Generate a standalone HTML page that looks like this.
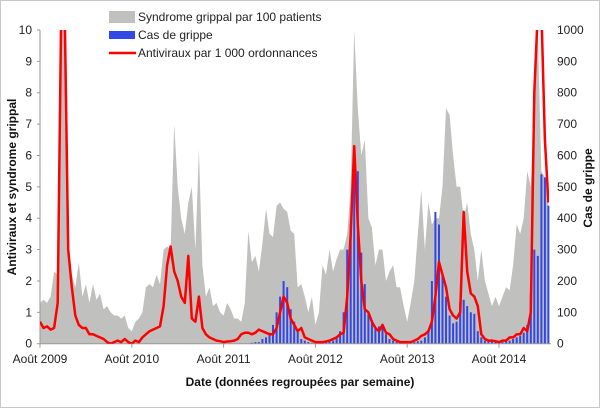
<!DOCTYPE html>
<html><head><meta charset="utf-8"><style>
html,body{margin:0;padding:0;background:#fff;}
svg{display:block;font-family:"Liberation Sans",sans-serif;}
</style></head><body>
<svg id="chart" width="600" height="408" viewBox="0 0 600 408">
<rect x="0.5" y="0.5" width="599" height="407" fill="#fff" stroke="#c8c8c8"/>
<g id="plot"></g>
</svg>
<script>
const startLabels = ["Août 2009","Août 2010","Août 2011","Août 2012","Août 2013","Août 2014"];
const leftTicks = [0,1,2,3,4,5,6,7,8,9,10];
const rightTicks = [0,100,200,300,400,500,600,700,800,900,1000];
const syndrome = [1.3,1.4,1.3,1.5,2.3,2.2,10,10,3,2.2,1.8,2.6,1.5,1.9,1.3,1.9,1.4,1.6,1.1,1.2,1.0,0.9,0.9,0.8,0.9,0.5,
0.4,0.7,0.8,1.0,1.8,1.9,1.8,2.2,1.9,3.0,3.1,3.0,7.0,5.0,4.0,3.5,4.5,5.0,3.0,6.2,2.5,1.5,1.8,1.2,1.3,1.0,
0.9,1.3,1.1,0.8,0.8,0.7,1.3,3.6,2.6,2.8,2.3,3.2,4.3,3.5,3.4,4.4,4.5,4.3,4.2,3.6,3.5,1.8,1.9,1.5,1.0,1.5,
0.6,1.0,2.5,2.2,3.0,2.3,2.7,3.0,3.0,3.5,5.0,10,7.5,6.0,6.5,4.0,3.7,2.5,3.0,3.0,2.0,2.3,2.5,1.8,1.8,1.2,
0.7,1.3,2.0,3.5,4.9,3.0,4.5,3.8,4.0,4.0,5.0,7.5,7.3,6.0,5.0,5.0,4.0,4.5,3.5,3.0,2.0,3.0,2.0,1.6,1.2,1.5,
1.2,1.5,1.8,1.7,2.5,3.8,3.5,4.0,5.5,5.0,7.6,10,5.5,5.3,5.0];
const antiviral = [0.7,0.5,0.55,0.45,0.5,1.3,11,11,3.0,1.8,0.9,0.6,0.5,0.5,0.3,0.3,0.25,0.2,0.15,0.05,0.0,0.05,0.1,0.05,0.15,0.05,
0.0,0.1,0.05,0.2,0.3,0.4,0.45,0.5,0.55,1.2,2.5,3.1,2.3,2.0,1.5,1.3,2.8,0.8,0.7,1.5,0.5,0.3,0.2,0.15,0.1,0.08,
0.05,0.07,0.08,0.1,0.15,0.3,0.35,0.35,0.3,0.35,0.45,0.4,0.35,0.3,0.3,0.5,1.0,1.5,1.3,0.8,0.6,0.4,0.5,0.2,0.15,0.1,
0.05,0.05,0.05,0.07,0.1,0.15,0.2,0.3,0.35,1.5,3.5,6.3,3.8,2.0,1.1,1.0,0.7,0.5,0.4,0.6,0.35,0.3,0.15,0.1,0.05,0.05,
0.05,0.05,0.1,0.15,0.25,0.3,0.4,0.7,1.5,2.6,2.2,1.8,1.1,0.9,0.8,1.0,4.2,2.3,1.6,1.5,1.2,0.3,0.15,0.1,0.1,0.08,
0.05,0.1,0.1,0.2,0.2,0.3,0.3,0.5,0.4,1.0,8,12,12,6.5,4.5];
const cases = [0,0,0,0,0,0,0,0,0,0,0,0,0,0,0,0,0,0,0,0,0,0,0,0,0,0,
0,0,0,0,0,0,0,0,0,0,0,0,0,0,0,0,0,0,0,0,0,0,0,0,0,0,
0,0,0,0,0,0,0,0,3,5,5,15,20,35,60,100,150,200,180,110,70,40,15,10,5,3,
2,2,3,5,8,10,20,40,100,300,380,600,550,290,190,100,75,50,55,55,30,15,10,5,3,2,
2,3,5,8,10,20,40,200,420,380,220,150,90,65,70,130,140,120,100,95,40,20,10,10,8,5,
5,5,8,10,15,20,25,35,60,160,300,280,540,530,440];

const NS="http://www.w3.org/2000/svg";
const g=document.getElementById('plot');
const X0=40,X1=549,Y0=343.7,Y1=30,step=(499-40)/130;
const xi=i=>X0+i*step;
const yl=v=>Y0-(Math.min(v,10.6)/10)*(Y0-Y1);
const yr=v=>Y0-(v/1000)*(Y0-Y1);
function el(t,a){const e=document.createElementNS(NS,t);for(const k in a)e.setAttribute(k,a[k]);g.appendChild(e);return e;}

const clip=el('clipPath',{id:'pc'});
const cr=document.createElementNS(NS,'rect');cr.setAttribute('x',X0);cr.setAttribute('y',Y1);cr.setAttribute('width',X1-X0);cr.setAttribute('height',Y0-Y1);clip.appendChild(cr);

// area
let d='M'+xi(0)+','+Y0;
syndrome.forEach((v,i)=>{d+=' L'+xi(i).toFixed(1)+','+yl(v).toFixed(1);});
d+=' L'+xi(syndrome.length-1)+','+Y0+' Z';
const area=el('path',{d:d,fill:'#c0c1bf','clip-path':'url(#pc)'});



// bars
cases.forEach((v,i)=>{if(v<=0)return;
 const b=el('rect',{x:(xi(i)-1).toFixed(1),y:yr(v).toFixed(1),width:2,height:(Y0-yr(v)).toFixed(1),fill:'#3347e6'});
 
 
});

// axes
const ax=el('line',{x1:X0,y1:Y0,x2:X1+2,y2:Y0,stroke:'#999','stroke-width':1});


const ay=el('line',{x1:X0,y1:Y1,x2:X0,y2:Y0,stroke:'#999','stroke-width':1});



// line
let ld='';
antiviral.forEach((v,i)=>{ld+=(i?' L':'M')+xi(i).toFixed(1)+','+yl(v).toFixed(1);});
const ln=el('path',{d:ld,fill:'none',stroke:'#f00','stroke-width':2.5,'stroke-linejoin':'round','clip-path':'url(#pc)'});



leftTicks.forEach(v=>{
 const t=el('text',{x:32,y:yl(v)+4,'text-anchor':'end','font-size':12,fill:'#222'});t.textContent=v;
 
 
 const tk=el('line',{x1:X0-3,x2:X0,y1:yl(v),y2:yl(v),stroke:'#999'});
 
 
});
rightTicks.forEach(v=>{
 const t=el('text',{x:557,y:yr(v)+4,'text-anchor':'start','font-size':12,fill:'#222'});t.textContent=v;
 
 
});
startLabels.forEach((s,k)=>{
 const x=xi(k*26);
 const t=el('text',{x:x,y:363,'text-anchor':'middle','font-size':12,fill:'#222'});t.textContent=s;
 
 
 const tk=el('line',{x1:x,x2:x,y1:Y0,y2:Y0+4,stroke:'#999'});
 
 
});
let t=el('text',{x:300,y:386,'text-anchor':'middle','font-size':12,'font-weight':'bold',fill:'#111'});t.textContent='Date (données regroupées par semaine)';


t=el('text',{x:0,y:0,'text-anchor':'middle','font-size':12,'font-weight':'bold',fill:'#111',transform:'translate(16,187) rotate(-90)'});t.textContent='Antiviraux et syndrome grippal';


t=el('text',{x:0,y:0,'text-anchor':'middle','font-size':12,'font-weight':'bold',fill:'#111',transform:'translate(592,188) rotate(-90)'});t.textContent='Cas de grippe';



// legend
const lg=[['Syndrome grippal par 100 patients','area',17],['Cas de grippe','bar',35],['Antiviraux par 1 000 ordonnances','line',53]];
lg.forEach(([s,k,y])=>{
 let m;
 if(k==='area')m=el('rect',{x:109,y:y-6,width:26,height:12,fill:'#c0c1bf'});
 else if(k==='bar')m=el('rect',{x:109,y:y-4,width:26,height:8,fill:'#3347e6'});
 else m=el('line',{x1:109,x2:136,y1:y,y2:y,stroke:'#f00','stroke-width':2.5});
 
 
 const tx=el('text',{x:138,y:y+4,'font-size':12,fill:'#222'});tx.textContent=s;
 
 
});
</script>
</body></html>
